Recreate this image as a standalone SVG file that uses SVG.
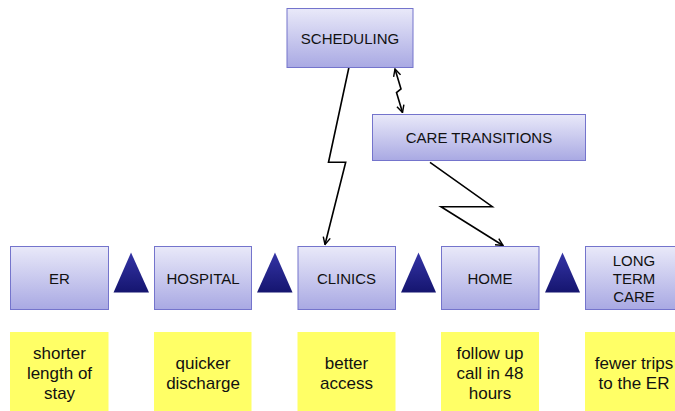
<svg xmlns="http://www.w3.org/2000/svg" width="675" height="411" viewBox="0 0 675 411">
<defs>
<linearGradient id="bg" x1="0" y1="0" x2="0" y2="1">
<stop offset="0" stop-color="#e9e9f9"/>
<stop offset="1" stop-color="#a9a9e3"/>
</linearGradient>
<linearGradient id="tg" x1="0" y1="0" x2="0" y2="1">
<stop offset="0" stop-color="#3434a6"/>
<stop offset="1" stop-color="#15156f"/>
</linearGradient>
<marker id="ah" viewBox="0 0 10 10" refX="9" refY="5" markerWidth="9" markerHeight="9" markerUnits="userSpaceOnUse" orient="auto-start-reverse">
<path d="M1,1 L9,5 L1,9" fill="none" stroke="#000" stroke-width="1.6"/>
</marker>
<style>
.box{fill:url(#bg);stroke:#7474cc;stroke-width:1}
.note{fill:#ffff66}
.tri{fill:url(#tg)}
.t{font-family:"Liberation Sans",Arial,sans-serif;font-size:15px;fill:#111;text-anchor:middle}
.n{font-family:"Liberation Sans",Arial,sans-serif;font-size:17px;fill:#111;text-anchor:middle}
.c{fill:none;stroke:#000;stroke-width:1.6;stroke-linejoin:miter}
</style>
</defs>
<g id="connectors">
<polyline class="c" points="349,67 328.5,162.3 345.7,162.3 325,244.5" marker-end="url(#ah)"/>
<polyline class="c" points="395,69 401,89 396.5,92.5 402.5,112.5" marker-start="url(#ah)" marker-end="url(#ah)"/>
<polyline class="c" points="430,162.3 492.3,206.7 441,206.7 503,245.5" marker-end="url(#ah)"/>
</g>
<g id="scheduling"><rect class="box" x="287" y="8.5" width="126" height="59"/><text class="t" x="350" y="44">SCHEDULING</text></g>
<g id="care-transitions"><rect class="box" x="372.5" y="114.5" width="213" height="46"/><text class="t" x="479" y="143">CARE TRANSITIONS</text></g>
<g id="er"><rect class="box" x="10.5" y="246.5" width="98" height="63"/><text class="t" x="59.5" y="284">ER</text></g>
<g id="hospital"><rect class="box" x="154.5" y="246.5" width="97" height="63"/><text class="t" x="203" y="284">HOSPITAL</text></g>
<g id="clinics"><rect class="box" x="298" y="246.5" width="97.5" height="63"/><text class="t" x="346.5" y="284">CLINICS</text></g>
<g id="home"><rect class="box" x="441.5" y="246.5" width="97.5" height="63"/><text class="t" x="490" y="284">HOME</text></g>
<g id="long-term-care"><rect class="box" x="585.5" y="246.5" width="98" height="63"/><text class="t" x="634" y="266">LONG</text><text class="t" x="634" y="284">TERM</text><text class="t" x="634" y="302">CARE</text></g>
<g id="arrows-tri">
<polygon class="tri" points="131,252.5 149,292.5 113.5,292.5"/>
<polygon class="tri" points="275,252.5 292.5,292.5 257,292.5"/>
<polygon class="tri" points="418.5,252.5 436,292.5 401,292.5"/>
<polygon class="tri" points="562.5,252.5 580,292.5 545,292.5"/>
</g>
<g id="note-er"><rect class="note" x="10" y="332" width="98.5" height="79"/><text class="n" x="59.5" y="359">shorter</text><text class="n" x="59.5" y="379">length of</text><text class="n" x="59.5" y="399">stay</text></g>
<g id="note-hospital"><rect class="note" x="154" y="332" width="97.5" height="79"/><text class="n" x="203" y="369">quicker</text><text class="n" x="203" y="389">discharge</text></g>
<g id="note-clinics"><rect class="note" x="297.5" y="332" width="98" height="79"/><text class="n" x="346.5" y="369">better</text><text class="n" x="346.5" y="389">access</text></g>
<g id="note-home"><rect class="note" x="441" y="332" width="98" height="79"/><text class="n" x="490" y="359">follow up</text><text class="n" x="490" y="379">call in 48</text><text class="n" x="490" y="399">hours</text></g>
<g id="note-ltc"><rect class="note" x="585" y="332" width="98" height="79"/><text class="n" x="634" y="369">fewer trips</text><text class="n" x="634" y="389">to the ER</text></g>
</svg>
